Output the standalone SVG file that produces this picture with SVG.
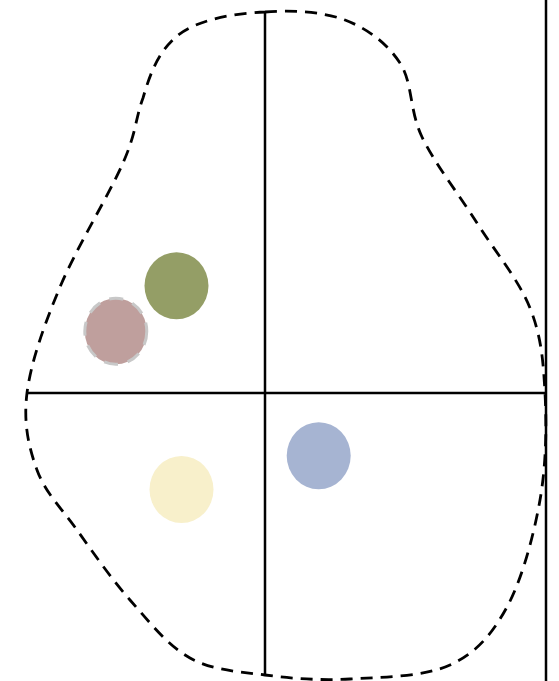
<svg xmlns="http://www.w3.org/2000/svg" width="559" height="681" viewBox="0 0 559 681">
<style>
.axis{stroke:#000;stroke-width:2.5;fill:none}
.blob{stroke:#000;stroke-width:2.8;fill:none;stroke-dasharray:12 8}
</style>
<rect width="559" height="681" fill="#fff"/>
<g id="connectors">
<path id="outline" class="blob" d="M265,12 C292,10 322.5,11.5 345,20 C367.5,28.5 387.2,43.5 400,63 C412.8,82.5 409.2,110.3 422,137 C434.8,163.7 459,194.5 477,223 C495,251.5 518.7,279.7 530,308 C541.3,336.3 543.3,361 545,393 C546.7,425 546.3,464.3 540,500 C533.7,535.7 522,579.5 507,607 C492,634.5 476.2,653 450,665 C423.8,677 380.8,677.3 350,679 C319.2,680.7 291.7,678.5 265,675 C238.3,671.5 212.5,670.5 190,658 C167.5,645.5 148.8,621.3 130,600 C111.2,578.7 92.5,551.7 77,530 C61.5,508.3 45.3,492.8 37,470 C28.7,447.2 23.2,423.5 27,393 C30.8,362.5 44,325.3 60,287 C76,248.7 109.2,194.5 123,163 C136.8,131.5 135,119.8 143,98 C150,74 158,52 177,36 C198,19 236,13 265,12 Z"/>
<line class="axis" x1="265" y1="12" x2="265" y2="676"/>
<line class="axis" x1="27" y1="393" x2="546" y2="393"/>
<line class="axis" x1="546" y1="0" x2="546" y2="681"/>
</g>
<g id="green"><ellipse cx="176.5" cy="285.8" rx="32" ry="33.5" fill="#949e66"/></g>
<g id="pink"><ellipse cx="115.8" cy="331.3" rx="31" ry="33" fill="#bf9f9d" stroke="#c8c8c8" stroke-width="3" stroke-dasharray="14 10"/></g>
<g id="yellow"><ellipse cx="181.5" cy="489.5" rx="32" ry="33.5" fill="#f8f0cb"/></g>
<g id="blue"><ellipse cx="318.7" cy="455.7" rx="32" ry="33.5" fill="#a6b4d2"/></g>
</svg>
